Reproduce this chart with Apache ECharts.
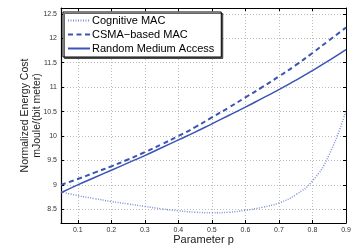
<!DOCTYPE html>
<html>
<head>
<meta charset="utf-8">
<script src="https://cdn.jsdelivr.net/npm/echarts@6/dist/echarts.min.js"></script>
<style>
  html, body { margin: 0; padding: 0; background: #fff; }
  #chart { width: 354px; height: 249px; }
</style>
</head>
<body>
<div id="chart"></div>
<script>
// parameter p (x values)
var pValues = [0.05, 0.1, 0.15, 0.2, 0.25, 0.3, 0.35, 0.4, 0.45, 0.5, 0.55, 0.6, 0.65, 0.7, 0.75, 0.8, 0.85, 0.9];
var cognitiveMac = [8.86, 8.78, 8.72, 8.66, 8.61, 8.56, 8.51, 8.47, 8.44, 8.43, 8.44, 8.48, 8.54, 8.63, 8.8, 9.08, 9.62, 10.52];
var csmaMac = [9.0, 9.12, 9.25, 9.38, 9.52, 9.67, 9.83, 10.0, 10.18, 10.38, 10.58, 10.79, 11.0, 11.22, 11.45, 11.7, 11.96, 12.22];
var randomAccess = [8.84, 9.0, 9.15, 9.3, 9.45, 9.6, 9.76, 9.92, 10.08, 10.25, 10.42, 10.59, 10.77, 10.95, 11.14, 11.34, 11.55, 11.77];

var xTicks = [0.1, 0.2, 0.3, 0.4, 0.5, 0.6, 0.7, 0.8, 0.9];
var yTicks = [8.5, 9, 9.5, 10, 10.5, 11, 11.5, 12, 12.5];

var seriesNames = ['Cognitive MAC', 'CSMA\u2212based MAC', 'Random Medium Access'];

function pairs(ys) {
  return pValues.map(function (p, i) { return [p, ys[i]]; });
}

var chart = echarts.init(document.getElementById('chart'));
var font = 'Liberation Sans, Arial, sans-serif';
var blue = '#3a54b4';

var gridLine = { show: true, lineStyle: { color: '#bcbcbc', type: [1, 2], width: 1 } };

var option = {
  animation: false,
  grid: { left: 61, right: 8, top: 8, bottom: 26, outerBoundsMode: 'none', containLabel: false },
  legend: {
    left: 63, top: 12,
    orient: 'vertical',
    itemWidth: 22, itemHeight: 8, itemGap: 3,
    padding: [3, 7, 3, 4],
    backgroundColor: '#fff',
    borderColor: '#000', borderWidth: 1,
    shadowColor: 'rgba(0,0,0,0.6)', shadowOffsetX: 1.5, shadowOffsetY: 1.5, shadowBlur: 0,
    borderRadius: 0,
    itemStyle: { opacity: 0 },
    textStyle: { fontFamily: font, fontSize: 11, color: '#000', padding: [0, 0, 0, -3] },
    data: seriesNames
  },
  xAxis: [{
    type: 'value', min: 0.05, max: 0.9,
    name: 'Parameter p', nameLocation: 'middle', nameGap: 11, nameMoveOverlap: false,
    nameTextStyle: { fontFamily: font, fontSize: 11, color: '#222', verticalAlign: 'top' },
    axisLine: { show: true, onZero: false, lineStyle: { color: '#000', width: 1.2 } },
    axisTick: { show: true, inside: true, length: 3, customValues: xTicks, lineStyle: { color: '#000' } },
    axisLabel: { customValues: xTicks, fontFamily: font, fontSize: 7, color: '#333', margin: 4,
      formatter: function (v) { return String(Math.round(v * 10) / 10); } },
    splitLine: gridLine
  }, {
    type: 'value', min: 0.05, max: 0.9, position: 'top',
    axisLine: { show: true, onZero: false, lineStyle: { color: '#000', width: 1 } },
    axisTick: { show: true, inside: true, length: 3, customValues: xTicks, lineStyle: { color: '#000' } },
    axisLabel: { show: false },
    splitLine: { show: false }
  }],
  yAxis: [{
    type: 'value', min: 8.22, max: 12.62,
    name: 'Normalized Energy Cost\nmJoule/(bit meter)', nameLocation: 'middle', nameGap: 18, nameMoveOverlap: false,
    nameTextStyle: { fontFamily: font, fontSize: 10.5, color: '#222', lineHeight: 12 },
    axisLine: { show: true, onZero: false, lineStyle: { color: '#000', width: 1.2 } },
    axisTick: { show: true, inside: true, length: 3, customValues: yTicks, lineStyle: { color: '#000' } },
    axisLabel: { customValues: yTicks, fontFamily: font, fontSize: 7, color: '#333', margin: 4 },
    splitLine: gridLine
  }, {
    type: 'value', min: 8.22, max: 12.62, position: 'right',
    axisLine: { show: true, onZero: false, lineStyle: { color: '#000', width: 1 } },
    axisTick: { show: true, inside: true, length: 3, customValues: yTicks, lineStyle: { color: '#000' } },
    axisLabel: { show: false },
    splitLine: { show: false }
  }],
  series: [{
    name: seriesNames[0], type: 'line', smooth: true, symbol: 'none',
    data: pairs(cognitiveMac),
    lineStyle: { color: '#7d8fd6', width: 1.5, type: [1, 1.5] },
    itemStyle: { color: '#7d8fd6' }
  }, {
    name: seriesNames[1], type: 'line', smooth: true, symbol: 'none',
    data: pairs(csmaMac),
    lineStyle: { color: blue, width: 2, type: [5, 3.5] },
    itemStyle: { color: blue }
  }, {
    name: seriesNames[2], type: 'line', smooth: true, symbol: 'none',
    data: pairs(randomAccess),
    lineStyle: { color: blue, width: 1.5 },
    itemStyle: { color: blue }
  }]
};

chart.setOption(option);
</script>
</body>
</html>
